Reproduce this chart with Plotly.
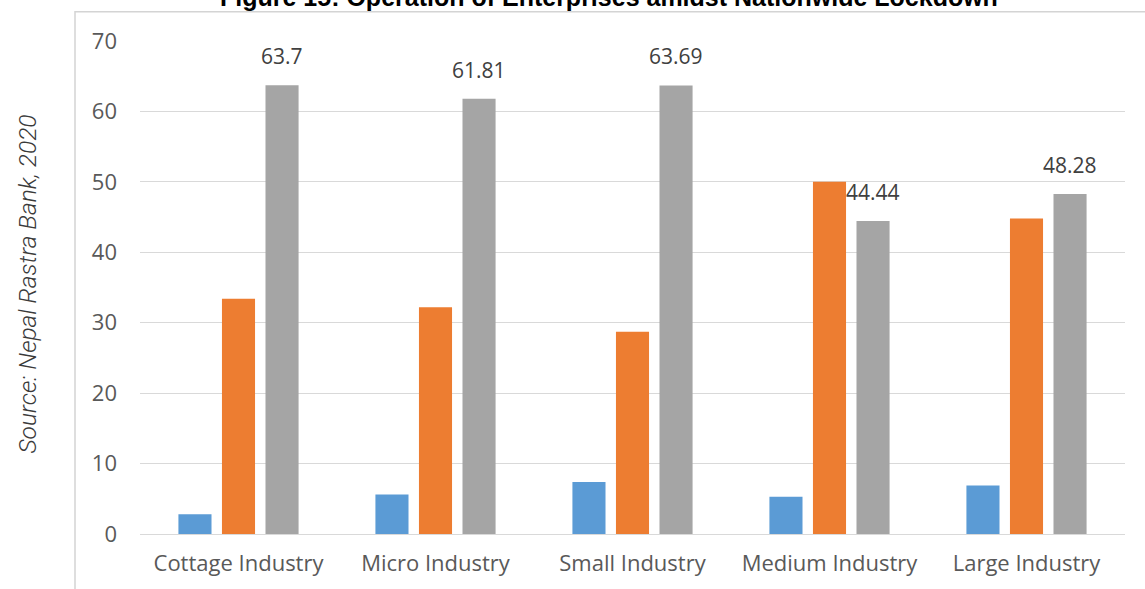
import plotly.graph_objects as go

# Operation of enterprises during the nationwide lockdown (percent)
categories = ["Cottage Industry", "Micro Industry", "Small Industry", "Medium Industry", "Large Industry"]
series_a = [2.8, 5.6, 7.4, 5.3, 6.9]
series_b = [33.4, 32.2, 28.7, 50.0, 44.8]
series_c = [63.7, 61.81, 63.69, 44.44, 48.28]
y_ticks = [0, 10, 20, 30, 40, 50, 60, 70]

W, H = 1145, 589
M_L, M_R, M_T, M_B = 140, 20, 41, 50
plot_w = W - M_L - M_R
plot_h = H - M_T - M_B


def px_x(px):
    return (px - M_L) / plot_w


def px_y(py):
    return (H - M_B - py) / plot_h


fig = go.Figure()
for name, vals, color in [
    ("A", series_a, "#5B9BD5"),
    ("B", series_b, "#ED7D31"),
    ("C", series_c, "#A5A5A5"),
]:
    fig.add_trace(go.Bar(x=categories, y=vals, name=name, marker_color=color,
                         marker_line_width=0, showlegend=False))

# value labels above the grey bars
group_w = plot_w / len(categories) * (1 - 0.337)
for cat, v in zip(categories, series_c):
    fig.add_annotation(x=cat, y=v, text=f"{v:g}", showarrow=False,
                       xshift=group_w / 3, yshift=29, yanchor="middle",
                       font=dict(family="Open Sans", size=21, color="#404040"))

# title and source caption
fig.add_annotation(xref="paper", yref="paper", x=px_x(609), y=px_y(13),
                   text="<b>Figure 15: Operation of Enterprises amidst Nationwide Lockdown</b>",
                   showarrow=False, xanchor="center", yanchor="bottom",
                   font=dict(family="Liberation Sans", size=25, color="#000000"))
fig.add_annotation(xref="paper", yref="paper", x=px_x(28), y=px_y(287),
                   text="<i>Source: Nepal Rastra Bank, 2020</i>", textangle=-90,
                   showarrow=False, xanchor="center", yanchor="middle",
                   font=dict(family="Roboto", size=24.5, color="#3a3a3a", weight=300))

# chart frame
fig.add_shape(type="rect", xref="paper", yref="paper",
              x0=px_x(75), x1=px_x(1160), y0=px_y(600), y1=px_y(11.5),
              line=dict(color="#d4d4d4", width=1.5), fillcolor="rgba(0,0,0,0)", layer="below")

fig.update_layout(
    width=W, height=H,
    margin=dict(l=M_L, r=M_R, t=M_T, b=M_B),
    paper_bgcolor="white", plot_bgcolor="white",
    barmode="group", bargap=0.337, bargroupgap=0.24,
    font=dict(family="Open Sans", size=22, color="#595959"),
)
fig.update_xaxes(showline=False, showgrid=False, ticks="", ticklabelstandoff=14,
                 tickfont=dict(family="Open Sans", size=22, color="#595959"))
fig.update_yaxes(range=[0, 70], tickvals=y_ticks, showgrid=True, gridcolor="#d9d9d9",
                 gridwidth=1, zeroline=True, zerolinecolor="#d9d9d9", zerolinewidth=1,
                 showline=False, ticks="", ticklabelstandoff=22,
                 tickfont=dict(family="Open Sans", size=22, color="#595959"))

fig.write_html("out.html")
